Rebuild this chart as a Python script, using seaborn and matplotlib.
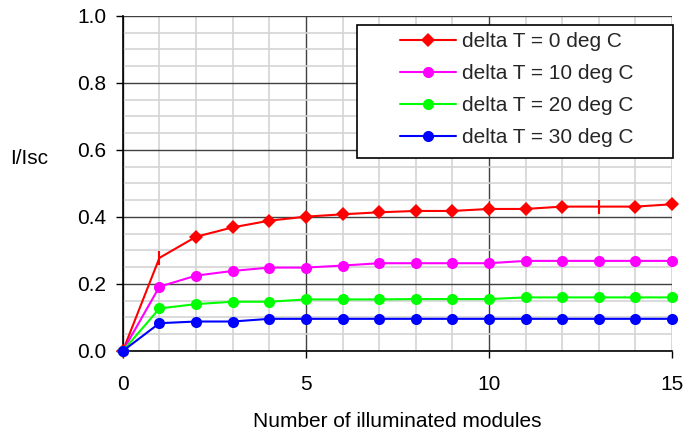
import numpy as np
import pandas as pd
import matplotlib
matplotlib.use("Agg")
import matplotlib.pyplot as plt
import seaborn as sns
from matplotlib.lines import Line2D
from matplotlib.ticker import MultipleLocator

modules = list(range(16))
dt0 = [0, 0.278, 0.341, 0.369, 0.389, 0.401, 0.408, 0.414, 0.418, 0.418, 0.424, 0.424, 0.431, 0.431, 0.431, 0.438]
dt10 = [0, 0.192, 0.225, 0.239, 0.249, 0.249, 0.255, 0.262, 0.262, 0.262, 0.262, 0.269, 0.269, 0.269, 0.269, 0.269]
dt20 = [0, 0.127, 0.140, 0.147, 0.147, 0.154, 0.154, 0.154, 0.155, 0.155, 0.155, 0.160, 0.160, 0.160, 0.160, 0.160]
dt30 = [0, 0.083, 0.088, 0.088, 0.096, 0.096, 0.096, 0.096, 0.096, 0.096, 0.096, 0.096, 0.096, 0.096, 0.096, 0.096]
labels = ["delta T = 0 deg C", "delta T = 10 deg C", "delta T = 20 deg C", "delta T = 30 deg C"]
colors = ["#FF0000", "#FF00FF", "#00FF00", "#0000FF"]
red_bar_points = [1, 13]  # points drawn with a '|' marker in the original

sns.set_theme(style="white")
plt.rcParams['font.family'] = ['Liberation Sans', 'DejaVu Sans']

FS = 15

fig = plt.figure(figsize=(6.9, 4.32), dpi=100)
ax = fig.add_axes([0.178, 0.1875, 0.796, 0.7755])

series = [dt0, dt10, dt20, dt30]
for i, (vals, lab, col) in enumerate(zip(series, labels, colors)):
    df = pd.DataFrame({"x": modules, "y": vals})
    if i == 0:
        keep = [k for k in range(len(modules)) if k not in red_bar_points]
        sns.lineplot(data=df, x="x", y="y", ax=ax, color=col, lw=1.5,
                     marker="D", markersize=7.5, markeredgewidth=0,
                     markeredgecolor=col, markevery=keep, zorder=3 + i, clip_on=False)
        sub = df.iloc[red_bar_points]
        sns.lineplot(data=sub, x="x", y="y", ax=ax, color=col, linestyle="",
                     marker="|", markersize=10, markeredgewidth=1.5,
                     markeredgecolor=col, zorder=3 + i, clip_on=False)
    else:
        sns.lineplot(data=df, x="x", y="y", ax=ax, color=col, lw=1.5,
                     marker="o", markersize=8, markeredgewidth=0,
                     markeredgecolor=col, zorder=3 + i, clip_on=False)

ax.set_xlim(0, 15)
ax.set_ylim(0, 1.0)
ax.xaxis.set_major_locator(MultipleLocator(5))
ax.xaxis.set_minor_locator(MultipleLocator(1))
ax.yaxis.set_major_locator(MultipleLocator(0.2))
ax.yaxis.set_minor_locator(MultipleLocator(0.05))
ax.set_yticks(ax.get_yticks())
ax.set_yticklabels([f"{v:.1f}" for v in ax.get_yticks()])
ax.set_ylim(0, 1.0)
ax.grid(which="minor", color="#d4d4d4", lw=1.2)
ax.grid(which="major", color="#404040", lw=1.0)
ax.set_axisbelow(True)

for s in ["top", "right"]:
    ax.spines[s].set_visible(False)
for s in ["left", "bottom"]:
    ax.spines[s].set_color("black")
    ax.spines[s].set_linewidth(1.2)

ax.tick_params(axis="both", which="major", direction="out", length=5, width=1,
               color="black", labelsize=FS, labelcolor="black", left=True, bottom=True)
ax.tick_params(axis="x", which="major", pad=12)
ax.tick_params(axis="y", which="major", pad=7)
ax.tick_params(which="minor", length=0)

ax.set_xlabel("Number of illuminated modules", fontsize=FS, labelpad=13, color="black")
ax.set_ylabel("I/Isc", fontsize=FS, rotation=0, color="black", ha="center", va="center")
ax.yaxis.set_label_coords(-0.17, 0.576)

handles = [Line2D([], [], color=c, lw=1.5, marker=m, markersize=ms, markeredgewidth=0)
           for c, m, ms in zip(colors, ["D", "o", "o", "o"], [7.5, 8, 8, 8])]
leg = ax.legend(handles, labels, loc="upper left", bbox_to_anchor=(0.505, 0.951),
                frameon=False, fontsize=FS, handlelength=2.7, handletextpad=0.25,
                labelspacing=0.62, borderpad=0, borderaxespad=0)
rect = plt.Rectangle((0.426, 0.576), 0.576, 0.397, transform=ax.transAxes,
                     facecolor="white", edgecolor="black", lw=1.2, zorder=10, clip_on=False)
ax.add_patch(rect)
leg.set_zorder(11)

fig.savefig("out.png", dpi=100)
